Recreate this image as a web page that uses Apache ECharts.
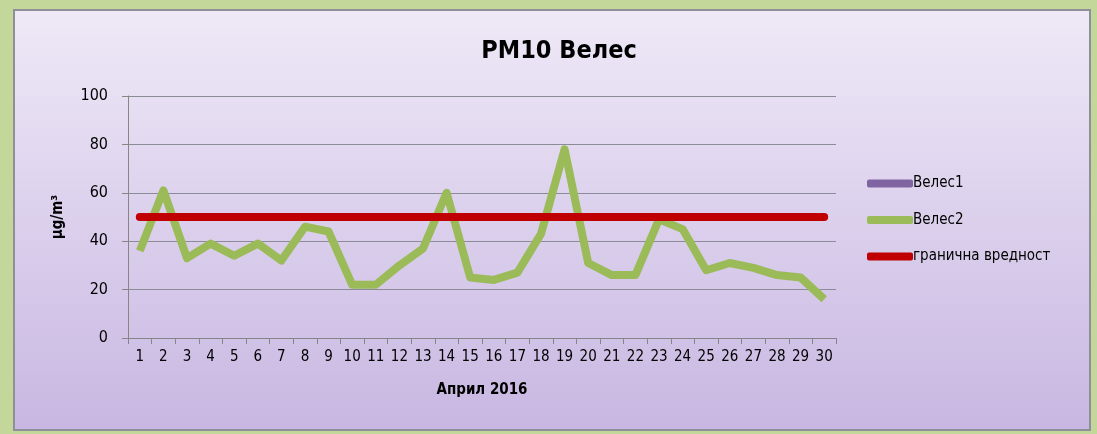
<!DOCTYPE html>
<html><head><meta charset="utf-8">
<script src="https://cdn.jsdelivr.net/npm/echarts@6/dist/echarts.min.js"></script>
<style>html,body{margin:0;padding:0;background:#c4d79b;}#c{width:1097px;height:434px;}</style>
</head><body><div id="c"></div>
<script>
const categories = ['1','2','3','4','5','6','7','8','9','10','11','12','13','14','15','16','17','18','19','20','21','22','23','24','25','26','27','28','29','30'];
const veles1 = [];
const veles2 = [36,61,33,39,34,39,32,46,44,22,22,30,37,60,25,24,27,43,78,31,26,26,49,45,28,31,29,26,25,16];
const limitValue = [50,50,50,50,50,50,50,50,50,50,50,50,50,50,50,50,50,50,50,50,50,50,50,50,50,50,50,50,50,50];
const yTicks = [0,20,40,60,80,100];

const font = '"DejaVu Sans Condensed","DejaVu Sans",sans-serif';
const chart = echarts.init(document.getElementById('c'), null, {renderer:'canvas'});
chart.setOption({
  animation:false,
  backgroundColor:'#c4d79b',
  graphic:[{
    type:'rect', z:-10, shape:{x:14, y:10, width:1076, height:420},
    style:{fill:new echarts.graphic.LinearGradient(0,0,0,1,[{offset:0,color:'#efe9f7'},{offset:1,color:'#c8b7e2'}]), stroke:'#8f8f9a', lineWidth:2}
  }],
  title:{text:'PM10 Велес', left:554, top:34, textAlign:'center',
    textStyle:{fontFamily:font, fontWeight:'bold', fontSize:25, color:'#000'}},
  legend:{orient:'vertical', left:862, top:171, itemGap:21.5, itemWidth:46, itemHeight:8, icon:'roundRect',
    textStyle:{fontFamily:font, fontSize:15, color:'#000', padding:[0,0,0,-5]},
    data:['Велес1','Велес2','гранична вредност']},
  grid:{left:128, right:261, top:96, bottom:96},
  xAxis:{type:'category', data:categories, boundaryGap:true,
    name:'Април 2016', nameLocation:'middle', nameGap:45,
    nameTextStyle:{fontFamily:font, fontWeight:'bold', fontSize:15, color:'#000'},
    axisLine:{lineStyle:{color:'#868686'}},
    axisTick:{show:true, length:6, interval:0, lineStyle:{color:'#868686'}},
    axisLabel:{interval:0, fontFamily:font, fontSize:15, color:'#000', margin:12}},
  yAxis:{type:'value', min:0, max:100, interval:20,
    name:'µg/m³', nameLocation:'middle', nameGap:62, nameRotate:90,
    nameTextStyle:{fontFamily:font, fontWeight:'bold', fontSize:15, color:'#000'},
    axisLine:{show:true, lineStyle:{color:'#868686'}},
    axisTick:{show:true, length:6, lineStyle:{color:'#868686'}},
    axisLabel:{fontFamily:font, fontSize:16, color:'#000', margin:20},
    splitLine:{lineStyle:{color:'#8c8c96', width:1}}},
  series:[
    {name:'Велес1', type:'line', data:veles1, color:'#8064a2', symbol:'none', lineStyle:{width:8, color:'#8064a2'}},
    {name:'Велес2', type:'line', data:veles2, color:'#9bbb59', symbol:'none', lineStyle:{width:8, color:'#9bbb59', join:'round'}, z:3},
    {name:'гранична вредност', type:'line', data:limitValue, color:'#c00000', symbol:'none', lineStyle:{width:8, color:'#c00000', cap:'round'}, z:4}
  ]
});
</script></body></html>
